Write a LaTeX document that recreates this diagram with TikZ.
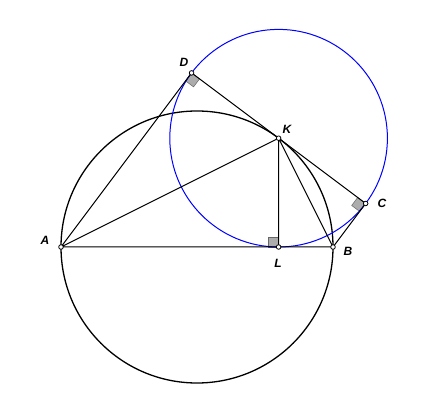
\documentclass[tikz,border=0pt]{standalone}
\usepackage{fontspec}
\setmainfont{Liberation Sans}
\begin{document}
\begin{tikzpicture}[line join=round, line cap=round, x=1pt, y=1pt, line width=1pt]
	\tikzset{every node/.style={font=\fontsize{12}{14}\selectfont\bfseries\itshape},
		pt/.style={draw=black, fill=white, line width=0.8pt},
		rtmark/.style={fill=gray!65, draw=gray!80!black, line width=0.5pt}}
	\useasboundingbox (-197,-167) rectangle (233,247);
	\coordinate (O) at (0,0);
	\coordinate (A) at (-136,0);
	\coordinate (B) at (136,0);
	\coordinate (K) at (81.6,108.8);
	\coordinate (L) at (81.6,0);
	\coordinate (D) at (-5.44,174.08);
	\coordinate (C) at (168.64,43.52);
	% right angle marks
	\draw[rtmark] (D)--++(233.13:10)--++(-36.87:10)--++(53.13:10)--cycle;
	\draw[rtmark] (C)--++(143.13:10)--++(233.13:10)--++(-36.87:10)--cycle;
	\draw[rtmark] (L)--++(90:10)--++(180:10)--++(-90:10)--cycle;
	% circles
	\draw[line width=1.3pt] (O) circle (136);
	\draw[blue] (K) circle (108.8);
	% segments
	\draw (A)--(B) (A)--(D)--(C)--(B) (A)--(K)--(L) (K)--(B);
	% points
	\foreach \p in {A,B,C,D,K,L}
		\draw[pt] (\p) circle (2.3);
	\node (lA) at (-152,7) {A};
	\node (lB) at (151,-4) {B};
	\node (lC) at (185,44) {C};
	\node (lD) at (-13,185) {D};
	\node (lK) at (90,118) {K};
	\node (lL) at (81,-16) {L};
\end{tikzpicture}
\end{document}
